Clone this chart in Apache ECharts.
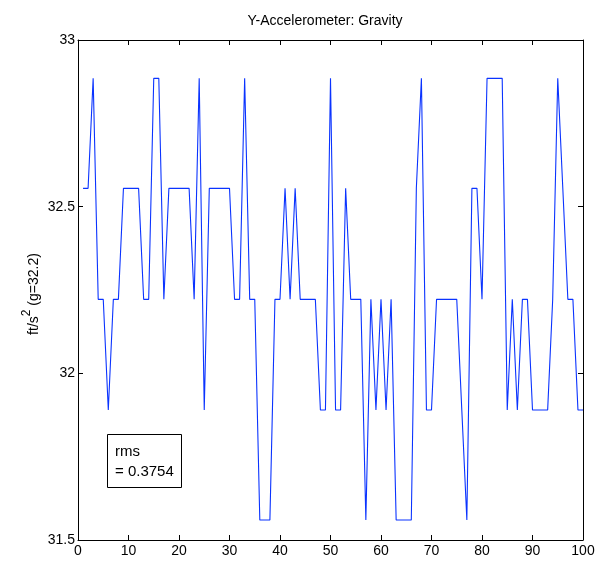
<!DOCTYPE html>
<html>
<head>
<meta charset="utf-8">
<script src="https://cdn.jsdelivr.net/npm/echarts@6/dist/echarts.min.js"></script>
<style>
html,body{margin:0;padding:0;background:#fff;}
#chart{width:613px;height:563px;}
</style>
</head>
<body>
<div id="chart"></div>
<script>
// Sample index (x) and measured acceleration (y) in ft/s^2
const sampleIndex = [1,2,3,4,5,6,7,8,9,10,11,12,13,14,15,16,17,18,19,20,
  21,22,23,24,25,26,27,28,29,30,31,32,33,34,35,36,37,38,39,40,
  41,42,43,44,45,46,47,48,49,50,51,52,53,54,55,56,57,58,59,60,
  61,62,63,64,65,66,67,68,69,70,71,72,73,74,75,76,77,78,79,80,
  81,82,83,84,85,86,87,88,89,90,91,92,93,94,95,96,97,98,99,100];
const gravityValues = [
  32.555,32.555,32.885,32.222,32.222,31.89,32.222,32.222,32.555,32.555,
  32.555,32.555,32.222,32.222,32.885,32.885,32.222,32.555,32.555,32.555,
  32.555,32.555,32.222,32.885,31.89,32.555,32.555,32.555,32.555,32.555,
  32.222,32.222,32.885,32.222,32.222,31.56,31.56,31.56,32.222,32.222,
  32.555,32.222,32.555,32.222,32.222,32.222,32.222,31.89,31.89,32.885,
  31.89,31.89,32.555,32.222,32.222,32.222,31.56,32.222,31.89,32.222,
  31.89,32.222,31.56,31.56,31.56,31.56,32.555,32.885,31.89,31.89,
  32.222,32.222,32.222,32.222,32.222,31.89,31.56,32.555,32.555,32.222,
  32.885,32.885,32.885,32.885,31.89,32.222,31.89,32.222,32.222,31.89,
  31.89,31.89,31.89,32.222,32.885,32.555,32.222,32.222,31.89,31.89];
const xTicks = {min: 0, max: 100, interval: 10};
const yTicks = {min: 31.5, max: 33, interval: 0.5};
const titleText = 'Y-Accelerometer: Gravity';
const yLabelRich = '{n|ft/s}{s|2}{n| (g=32.2)}';
const rmsText = 'rms\n= 0.3754';

const FONT = 'Liberation Sans, Arial, Helvetica, sans-serif';
const seriesData = sampleIndex.map((x, i) => [x, gravityValues[i]]);

const chart = echarts.init(document.getElementById('chart'), null, {renderer: 'canvas'});
const axisCommon = {
  axisLine: {show: true, onZero: false, lineStyle: {color: '#000', width: 1}},
  axisTick: {show: true, inside: true, length: 5, lineStyle: {color: '#000'}},
  splitLine: {show: false}
};
chart.setOption({
  animation: false,
  backgroundColor: '#fff',
  title: [
    {text: titleText, left: 320, top: 9, textAlign: 'center',
     textStyle: {fontFamily: FONT, fontSize: 14, fontWeight: 'normal', color: '#000'}},
    {text: rmsText, left: 107, top: 434, padding: [8, 8, 6, 8],
     borderColor: '#000', borderWidth: 1, backgroundColor: '#fff',
     textStyle: {fontFamily: FONT, fontSize: 15, fontWeight: 'normal', color: '#000', lineHeight: 20}}
  ],
  graphic: [{
    type: 'text', x: 31, y: 294, rotation: Math.PI / 2,
    style: {
      text: yLabelRich, align: 'center', verticalAlign: 'middle',
      fontFamily: FONT, fill: '#000',
      rich: {
        n: {fontSize: 14, fontFamily: FONT, fill: '#000', lineHeight: 20, verticalAlign: 'bottom'},
        s: {fontSize: 12, fontFamily: FONT, fill: '#000', lineHeight: 12, verticalAlign: 'top'}
      }
    }
  }],
  grid: {left: 78, right: 30, top: 40, bottom: 23, containLabel: false},
  xAxis: [
    Object.assign({type: 'value', position: 'bottom'}, xTicks, axisCommon,
      {axisLabel: {color: '#000', fontFamily: FONT, fontSize: 14, margin: 4}}),
    Object.assign({type: 'value', position: 'top'}, xTicks, axisCommon,
      {axisLabel: {show: false}})
  ],
  yAxis: [
    Object.assign({type: 'value', position: 'left'}, yTicks, axisCommon,
      {axisLabel: {color: '#000', fontFamily: FONT, fontSize: 14, margin: 3}}),
    Object.assign({type: 'value', position: 'right'}, yTicks, axisCommon,
      {axisLabel: {show: false}})
  ],
  series: [{
    type: 'line', xAxisIndex: 0, yAxisIndex: 0, data: seriesData,
    showSymbol: false, symbol: 'none',
    lineStyle: {color: '#0a33ff', width: 1.1}
  }]
});
</script>
</body>
</html>
